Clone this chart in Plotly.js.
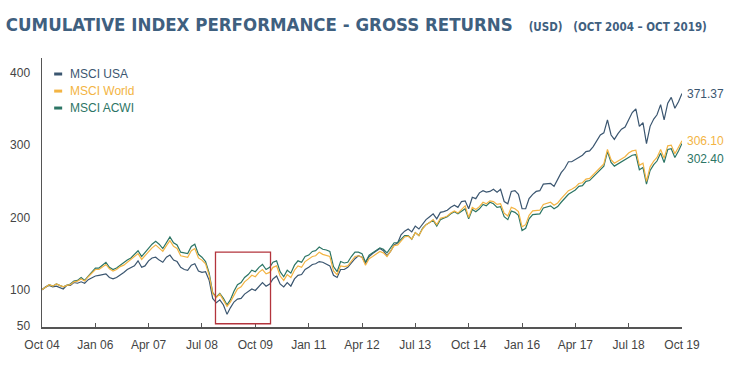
<!DOCTYPE html>
<html>
<head>
<meta charset="utf-8">
<script src="https://cdn.plot.ly/plotly-3.0.1.min.js"></script>
<style>html,body{margin:0;padding:0;background:#fff;}#chart{width:731px;height:375px;}</style>
</head>
<body>
<div id="chart"></div>
<script>
// Monthly index levels, Oct 2004 .. Oct 2019 (181 months)
const startYear = 2004, startMonth = 10;
const msciUSA = [
  100, 104, 106,
  104, 105, 103, 101, 106, 106, 110, 109, 111, 109, 114, 117,
  119, 120, 121, 122, 117, 115, 117, 120, 124, 128, 131, 133,
  140, 131, 133, 140, 144, 145, 141, 138, 145, 148, 141, 139,
  131, 128, 127, 134, 136, 126, 124, 125, 113, 88, 82, 86,
  79, 66, 75, 83, 87, 88, 94, 97, 101, 99, 105, 110,
  105, 108, 115, 119, 108, 104, 110, 105, 115, 120, 121, 128,
  131, 135, 136, 139, 138, 136, 133, 120, 117, 128, 128, 131,
  137, 143, 147, 145, 137, 146, 150, 153, 157, 154, 147, 153,
  162, 165, 176, 181, 184, 180, 188, 184, 190, 197, 201, 205,
  198, 207, 208, 210, 214, 217, 214, 222, 223, 212, 228, 226,
  234, 237, 235, 236, 239, 235, 239, 222, 219, 236, 237, 232,
  212, 212, 226, 232, 236, 237, 246, 247, 247, 243, 252, 262,
  268, 277, 277, 280, 284, 286, 291, 292, 298, 305, 314, 317,
  335, 314, 308, 316, 322, 325, 336, 345, 350, 326, 331, 302,
  326, 336, 342, 356, 335, 358, 366, 351, 360, 371.37
];
const msciWorld = [
  100, 104, 107,
  105, 108, 106, 104, 106, 107, 111, 112, 115, 112, 118, 123,
  128, 128, 131, 135, 129, 126, 128, 132, 134, 138, 141, 145,
  150, 142, 147, 154, 158, 162, 158, 153, 161, 168, 160, 157,
  147, 146, 145, 154, 157, 144, 141, 136, 120, 95, 89, 94,
  86, 77, 83, 93, 101, 104, 111, 115, 120, 118, 124, 128,
  122, 124, 131, 133, 119, 113, 121, 117, 127, 133, 131, 139,
  142, 146, 147, 152, 149, 148, 146, 126, 121, 133, 132, 133,
  140, 146, 147, 145, 134, 143, 146, 149, 153, 151, 146, 153,
  161, 162, 167, 173, 174, 170, 179, 175, 184, 190, 193, 197,
  190, 199, 200, 202, 206, 209, 206, 211, 216, 200, 214, 211,
  215, 221, 219, 223, 222, 218, 219, 206, 202, 214, 212, 208,
  187, 190, 203, 209, 210, 210, 218, 220, 221, 217, 220, 226,
  231, 237, 239, 242, 247, 248, 253, 254, 259, 264, 270, 274,
  294, 280, 275, 278, 280, 284, 289, 292, 293, 272, 275, 250,
  270, 278, 283, 294, 282, 299, 300, 288, 297, 306.10
];
const msciACWI = [
  100, 104, 107,
  105, 108, 106, 104, 106, 108, 112, 113, 117, 113, 119, 125,
  130, 130, 134, 138, 131, 128, 130, 134, 137, 141, 144, 149,
  154, 146, 151, 158, 163, 167, 163, 157, 166, 173, 165, 162,
  152, 151, 150, 160, 163, 149, 145, 139, 123, 96, 90, 95,
  88, 79, 86, 98, 107, 110, 117, 121, 127, 125, 131, 135,
  128, 131, 138, 140, 125, 118, 127, 123, 134, 140, 138, 146,
  148, 153, 154, 159, 156, 155, 153, 132, 125, 139, 137, 138,
  146, 152, 152, 150, 138, 148, 151, 154, 158, 156, 151, 158,
  165, 165, 170, 175, 175, 170, 179, 175, 185, 190, 193, 196,
  188, 197, 199, 201, 205, 208, 205, 209, 212, 198, 211, 208,
  212, 218, 216, 221, 219, 214, 215, 201, 197, 209, 207, 203,
  182, 185, 198, 204, 205, 205, 213, 215, 216, 212, 215, 221,
  226, 232, 235, 238, 243, 244, 250, 251, 256, 261, 266, 271,
  291, 276, 271, 274, 276, 279, 283, 286, 287, 266, 269, 246,
  265, 273, 278, 289, 276, 294, 295, 283, 292, 302.40
];
const seriesNames = ['MSCI USA', 'MSCI World', 'MSCI ACWI'];
const endLabels = ['371.37', '306.10', '302.40'];
const xTickVals = ['2004-10-01','2006-01-01','2007-04-01','2008-07-01','2009-10-01','2011-01-01',
  '2012-04-01','2013-07-01','2014-10-01','2016-01-01','2017-04-01','2018-07-01','2019-10-01'];
const xTickText = ['Oct 04','Jan 06','Apr 07','Jul 08','Oct 09','Jan 11','Apr 12','Jul 13',
  'Oct 14','Jan 16','Apr 17','Jul 18','Oct 19'];
const yTickVals = [50, 100, 200, 300, 400];

const colors = ['#3b5670', '#f3b443', '#2c7565'];
const dates = msciUSA.map((_, i) => {
  const t = (startMonth - 1) + i;
  const y = startYear + Math.floor(t / 12);
  const m = (t % 12) + 1;
  return y + '-' + String(m).padStart(2, '0') + '-01';
});
const allSeries = [msciUSA, msciWorld, msciACWI];
const drawOrder = [0, 2, 1];
const traces = drawOrder.map(k => ({
  x: dates, y: allSeries[k], type: 'scatter', mode: 'lines', name: seriesNames[k],
  line: {color: colors[k], width: 1.2}, hoverinfo: 'skip'
}));

const lastDate = dates[dates.length - 1];
const annotations = [];
const shapes = [];
const legendY = [0.9405, 0.877, 0.814];
seriesNames.forEach((n, k) => {
  annotations.push({xref: 'paper', yref: 'paper', x: 0.0406, y: legendY[k], xanchor: 'left', yanchor: 'middle',
    text: n, showarrow: false, font: {family: 'Liberation Sans, Arial, sans-serif', size: 12, color: colors[k]}});
  shapes.push({type: 'line', xref: 'paper', yref: 'paper', x0: 0.019, x1: 0.0315, y0: legendY[k], y1: legendY[k],
    line: {color: colors[k], width: 3}});
  const s = allSeries[k];
  annotations.push({x: lastDate, y: s[s.length - 1], xanchor: 'left', yanchor: 'middle', xshift: 3,
    yshift: k === 2 ? -16 : 0, text: endLabels[k], showarrow: false,
    font: {family: 'Liberation Sans, Arial, sans-serif', size: 12, color: colors[k]}});
});
// highlight box (GFC period)
shapes.push({type: 'rect', xref: 'x', yref: 'y', x0: '2008-10-25', x1: '2010-02-08', y0: 53, y1: 152,
  line: {color: '#b3343c', width: 1.3}, fillcolor: 'rgba(0,0,0,0)'});

const layout = {
  width: 731, height: 375,
  margin: {l: 42, r: 49, t: 58, b: 48},
  paper_bgcolor: '#fff', plot_bgcolor: '#fff',
  showlegend: false,
  title: {
    text: '<b>CUMULATIVE INDEX PERFORMANCE - GROSS RETURNS</b>&nbsp;&nbsp;&nbsp;<span style="font-size:11.5px"><b>(USD)&nbsp;&nbsp;&nbsp;(OCT 2004 – OCT 2019)</b></span>',
    x: 0.008, xref: 'container', xanchor: 'left', y: 1 - 25 / 375, yref: 'container', yanchor: 'middle',
    font: {family: 'DejaVu Sans Condensed, Liberation Sans Narrow, sans-serif', size: 18.5, color: '#3f607f'}
  },
  xaxis: {
    type: 'date', range: ['2004-10-01', '2019-10-01'],
    tickmode: 'array', tickvals: xTickVals, ticktext: xTickText,
    showline: true, linecolor: '#555', linewidth: 1.5, ticks: 'inside', ticklen: 4, tickcolor: '#555', tickwidth: 1,
    showgrid: false, zeroline: false, ticklabelstandoff: 6,
    tickfont: {family: 'Liberation Sans, Arial, sans-serif', size: 12, color: '#444'}
  },
  yaxis: {
    range: [48.5, 420.5], tickmode: 'array', tickvals: yTickVals,
    showline: true, linecolor: '#555', linewidth: 1.5, ticks: '', showgrid: false, zeroline: false,
    ticklabelstandoff: 8,
    tickfont: {family: 'Liberation Sans, Arial, sans-serif', size: 12, color: '#444'}
  },
  annotations: annotations,
  shapes: shapes
};
Plotly.newPlot('chart', traces, layout, {displayModeBar: false, staticPlot: true});
</script>
</body>
</html>
